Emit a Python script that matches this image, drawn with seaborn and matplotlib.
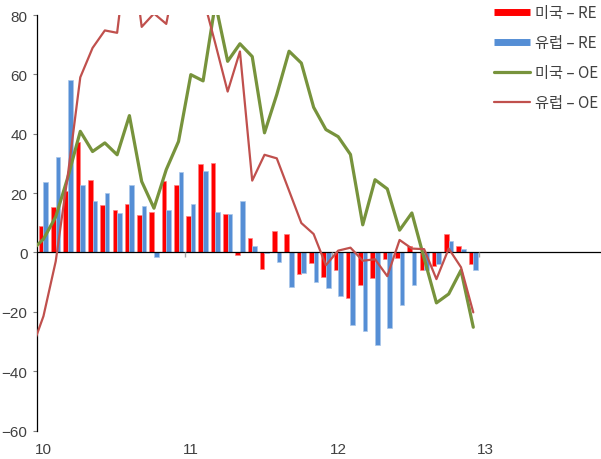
import numpy as np
import pandas as pd
import matplotlib
matplotlib.use("Agg")
import matplotlib.pyplot as plt
import seaborn as sns
from matplotlib.lines import Line2D

# monthly index: 0 = Jan 2010 ... 35 = Dec 2012 (line series start one month earlier)
month_idx = list(range(36))
line_idx = list(range(-1, 36))
year_labels = ["10", "11", "12", "13"]

us_re = [8.8, 15.3, 20.8, 37.1, 24.4, 15.9, 14.3, 16.2, 12.5, 13.5, 24.2, 22.6,
         12.2, 29.9, 30.2, 12.8, -0.7, 4.7, -5.5, 7.3, 6.2, -7.2, -3.7, -8.3,
         -5.9, -15.3, -11.1, -8.5, -2.2, -1.9, 2.0, -5.8, -4.7, 6.1, 2.0, -3.8]
eu_re = [23.6, 32.1, 58.1, 22.7, 17.2, 19.9, 13.3, 22.7, 15.5, -1.4, 14.2, 27.0,
         16.3, 27.6, 13.6, 13.1, 17.2, 2.0, -0.3, -3.2, -11.6, -6.8, -9.9, -11.9,
         -14.6, -24.5, -26.4, -31.3, -25.6, -17.8, -10.9, -5.8, -3.8, 3.9, 1.1, -5.8]
us_oe = [0.5, 4.5, 12.0, 25.5, 40.8, 34.0, 36.9, 32.9, 46.1, 23.9, 14.9, 27.9, 37.4,
         59.9, 57.8, 84.0, 64.4, 70.3, 66.0, 40.3, 53.2, 67.8, 63.8, 48.9, 41.4,
         39.0, 33.0, 9.3, 24.5, 21.4, 7.5, 13.3, -2.0, -17.0, -14.0, -6.0, -25.2]
eu_oe = [-33.0, -21.5, -3.0, 26.5, 59.0, 68.9, 74.8, 74.0, 108.0, 76.0, 80.5, 77.0, 98.0,
         95.0, 86.0, 70.3, 54.2, 67.7, 24.2, 32.9, 31.7, 20.8, 9.9, 6.2, -4.3,
         0.6, 1.6, -2.8, -2.3, -8.0, 4.2, 1.3, 1.1, -9.0, 1.3, -5.0, -20.2]

labels = ["미국 – RE", "유럽 – RE", "미국 – OE", "유럽 – OE"]
colors = ["#FF0000", "#558ED5", "#77933C", "#C0504D"]

bars = pd.DataFrame({
    "month": month_idx * 2,
    "series": [labels[0]] * 36 + [labels[1]] * 36,
    "value": us_re + eu_re,
})

sns.set_style("white")
plt.rcParams["font.family"] = ["Liberation Sans", "DejaVu Sans"]

fig = plt.figure(figsize=(6.01, 4.6), dpi=100)
ax = fig.add_axes([37.3 / 601, 28.5 / 460, (601 - 37.3) / 601, (444 - 28.5) / 460])

sns.barplot(data=bars, x="month", y="value", hue="series", hue_order=labels[:2],
            palette=colors[:2], width=0.75, gap=0, errorbar=None, legend=False,
            saturation=1, ax=ax, zorder=2)
for p in ax.patches:
    fc = np.array(p.get_facecolor()[:3])
    p.set_edgecolor(tuple(fc * 0.5 + 0.5))
    p.set_linewidth(0.5)

ax.axhline(0, color="black", lw=0.9, zorder=3)
for b in range(1, 4):
    ax.vlines(12 * b - 0.5, -1.7, 0, color="#a6a6a6", lw=1, zorder=3)

sns.lineplot(x=line_idx, y=us_oe, color=colors[2], lw=2.3, ax=ax, zorder=4)
sns.lineplot(x=line_idx, y=eu_oe, color=colors[3], lw=1.6, ax=ax, zorder=4)

ax.set_xlim(-0.5, 45.4)
ax.set_ylim(-60, 80)
ax.set_xticks([0, 12, 24, 36])
ax.set_xticklabels(year_labels)
ax.set_yticks(range(-60, 81, 20))
ax.tick_params(axis="x", length=0, pad=8, labelsize=11, labelcolor="#404040")
ax.tick_params(axis="y", length=3, width=0.8, color="#7f7f7f", pad=4,
               labelsize=11, labelcolor="#404040", left=True)
ax.set_xlabel("")
ax.set_ylabel("")
for s in ["top", "right", "bottom"]:
    ax.spines[s].set_visible(False)
ax.spines["left"].set_color("black")
ax.spines["left"].set_linewidth(0.9)

handles = [
    Line2D([], [], color=colors[0], lw=5, solid_capstyle="butt"),
    Line2D([], [], color=colors[1], lw=5, solid_capstyle="butt"),
    Line2D([], [], color=colors[2], lw=2.3),
    Line2D([], [], color=colors[3], lw=1.6),
]
leg = fig.legend(handles, labels, loc="upper left", bbox_to_anchor=(494 / 601, 1 - 5 / 460),
                 frameon=False, borderpad=0, borderaxespad=0, handlelength=2.36,
                 handletextpad=0.3, labelspacing=0.85,
                 prop={"family": ["Noto Sans CJK KR", "DejaVu Sans"], "size": 11})
for t in leg.get_texts():
    t.set_color("#404040")

fig.savefig("out.png", dpi=100)
